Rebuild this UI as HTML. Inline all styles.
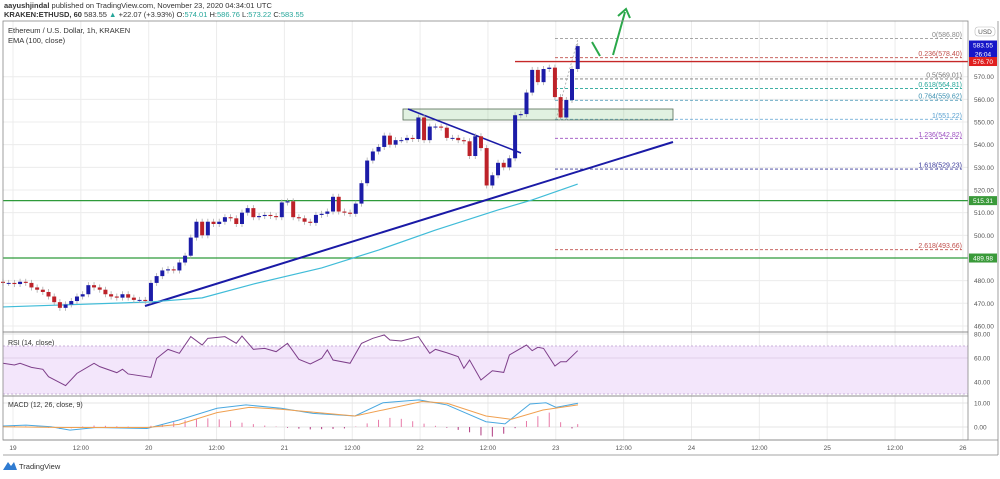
<!DOCTYPE html>
<html><head><meta charset="utf-8">
<style>
html,body{margin:0;padding:0;background:#fff;}
body{width:1000px;height:474px;overflow:hidden;font-family:"Liberation Sans",sans-serif;}
svg text{font-family:"Liberation Sans",sans-serif;}
</style></head>
<body>
<svg id="chart" width="1000" height="474" viewBox="0 0 1000 474" xmlns="http://www.w3.org/2000/svg">
<text x="4" y="8" font-size="7.5" fill="#333"><tspan font-weight="bold">aayushjindal</tspan> published on TradingView.com, November 23, 2020 04:34:01 UTC</text>
<text x="4" y="17" font-size="7.5" fill="#333"><tspan font-weight="bold">KRAKEN:ETHUSD, 60</tspan> 583.55 <tspan fill="#26a69a">▲</tspan> +22.07 (+3.93%) O:<tspan fill="#26a69a">574.01</tspan> H:<tspan fill="#26a69a">586.76</tspan> L:<tspan fill="#26a69a">573.22</tspan> C:<tspan fill="#26a69a">583.55</tspan></text>
<g id="grid"></g>
<g id="overlays"></g>
<g id="candles"></g>
<g id="ind"></g>
<g id="axes"></g>
<text x="8" y="33" font-size="7.5" fill="#333">Ethereum / U.S. Dollar, 1h, KRAKEN</text>
<text x="8" y="43" font-size="7.5" fill="#333">EMA (100, close)</text>
<text x="8" y="345" font-size="7" fill="#333">RSI (14, close)</text>
<text x="8" y="407" font-size="7" fill="#333">MACD (12, 26, close, 9)</text>
<g>
<path d="M3 470 L8 462 L11 466 L14 462 L17 470 Z" fill="#2f7bd1"/>
<text x="19" y="469" font-size="7.5" fill="#333">TradingView</text>
</g>
</svg>
<script>
const closes=[479,479,478.5,479.5,479,477,476,475,473,470.5,468,469.5,471,473,474,478,477,476,474,473,472.5,474,472.5,471.5,471.5,471,479,482,484.5,485,484.5,488,491,499,506,500,506,505,506,508,507.5,505,510,512,508,508.5,509,508.5,508,514.5,515,508,507.5,506,505.5,509,509.5,510.5,517,510.5,510,509.5,514,523,533,537,539,544,540,542,542,543,542.5,552,542,548,548,547.5,543,543,542,541.5,535,543.7,538.5,522,526.5,532,530,534,553,553.5,563,573,567.6,573.4,574,561,552,559.7,573.4,583.5];
const firstOpen=479.5;
const emaIdx=[0,26,35,44,56,66,76,87,93,101];
const emaVals=[468.4,470.6,472.4,478.5,485.6,493.5,502.3,511.2,515.6,522.6];
const rsiIdx=[0,2,3,5,7,8,11,13,16,17,20,21,22,26,27,29,31,33,35,36,39,41,42,44,46,48,50,52,54,56,57,58,61,63,65,67,68,70,73,75,76,78,80,81,82,84,86,88,89,92,93,94,95,97,98,99,101];
const rsiVals=[55.6,54.2,55.6,52.2,50.6,44.4,37,47.2,55.6,52.8,47.8,50.6,46.7,43.9,59.7,67.2,63.9,77.8,70.8,76.4,77.8,72.2,78.3,67.2,68,65.3,72.2,58.9,55,59.7,66.7,58.3,55.6,72.2,76.4,79.2,75,74.2,77.8,63.9,67.2,64.4,61.1,51.4,58.3,41.7,49.4,48,62.5,70.8,66.1,68.9,68,53.3,56.9,56.9,66.1];
const macdX=[3,26,51,70,96,147,179,217,246,281,313,355,383,419,447,486,505,530,546,556,578];
const macdVals=[0.4,0.8,0.1,-1.3,-0.2,-0.6,2.9,7.8,9.2,7.8,5.7,4.6,10.1,11.3,9.2,2.2,1.3,9.6,10.1,8.2,9.9];
const sigX=[3,64,147,179,217,249,281,355,383,422,447,486,511,543,578];
const sigVals=[0.1,-0.2,-0.2,1.1,6,8.2,7.4,4.6,7.1,10.6,9.9,4.6,3.2,7.1,9.2];
const histIdx=[0,2,4,6,8,10,12,14,16,18,20,22,24,26,28,30,32,34,36,38,40,42,44,46,48,50,52,54,56,58,60,62,64,66,68,70,72,74,76,78,80,82,84,86,88,90,92,94,96,98,100,101];
const histVals=[0.3,0.4,0.3,0.2,-0.3,-0.8,-0.5,0.2,0.6,0.5,0.3,0.2,-0.2,0.5,1.2,2,2.8,3.5,3.6,3.2,2.6,1.8,1.2,0.6,0.2,-0.3,-0.7,-1,-0.9,-0.8,-0.6,0.2,1.5,3,3.8,3.4,2.4,1.4,0.5,-0.3,-1.2,-2.2,-3.5,-4,-2.8,-0.5,2.5,4.5,6,2,-0.6,1.2];
const priceTicks=[570,560,550,540,530,520,510,500,490,480,470,460];
const timeLabels=["19","12:00","20","12:00","21","12:00","22","12:00","23","12:00","24","12:00","25","12:00","26"];
const fibLevels=[0,0.236,0.5,0.618,0.764,1,1.236,1.618,2.618];
const fibPrices=[586.80,578.40,569.01,564.81,559.62,551.22,542.82,529.23,493.66];
const fibColors=["#888","#c0504d","#777","#26a69a","#3a8fb0","#5aa0d0","#9c4fc0","#3a3a9a","#c0504d"];

const NS="http://www.w3.org/2000/svg";
const X0=3,X1=968,PT=21,PB=332;
const yP=p=>76.7+(570-p)*2.266;
const xI=i=>3+i*5.69;
const xT=k=>13+k*67.85;
const yR=v=>358-(v-60)*1.2;
const yM=v=>427-v*2.4;
function mk(tag,attrs,parent){const e=document.createElementNS(NS,tag);for(const k in attrs)e.setAttribute(k,attrs[k]);parent.appendChild(e);return e;}
const grid=document.getElementById('grid'),ov=document.getElementById('overlays'),cg=document.getElementById('candles'),ind=document.getElementById('ind'),ax=document.getElementById('axes');

// grid
priceTicks.forEach(p=>{const l=mk('line',{x1:X0,x2:X1,y1:yP(p),y2:yP(p),stroke:'#ececec','stroke-width':1},grid);

});
timeLabels.forEach((t,k)=>{const l=mk('line',{x1:xT(k),x2:xT(k),y1:PT,y2:440,stroke:'#ececec','stroke-width':1},grid);

});
[334,358,382].forEach(y=>mk('line',{x1:X0,x2:X1,y1:y,y2:y,stroke:'#e4e4e4'},grid));
[403,427].forEach(y=>mk('line',{x1:X0,x2:X1,y1:y,y2:y,stroke:'#e4e4e4'},grid));
// RSI band
const band=mk('rect',{x:X0,y:yR(70),width:X1-X0,height:yR(30)-yR(70),fill:'#f3e6fb'},grid);


[70,30].forEach(v=>mk('line',{x1:X0,x2:X1,y1:yR(v),y2:yR(v),stroke:'#c8b0d8','stroke-dasharray':'2,2'},grid));
mk('line',{x1:X0,x2:X1,y1:yR(60),y2:yR(60),stroke:'#e0d0ea'},grid);

// pane frames
[[PT,PB],[PB,396],[396,440]].forEach(([a,b])=>mk('rect',{x:X0,y:a,width:X1-X0,height:b-a,fill:'none',stroke:'#888','stroke-width':0.8},ax));
mk('line',{x1:X0,x2:998,y1:440,y2:440,stroke:'#888','stroke-width':0.8},ax);
mk('line',{x1:X0,x2:998,y1:455,y2:455,stroke:'#888','stroke-width':0.8},ax);
mk('line',{x1:998,x2:998,y1:PT,y2:455,stroke:'#888','stroke-width':0.8},ax);

// green horizontals
[[515.31,'support-line-515'],[489.98,'support-line-490']].forEach(([p,n])=>{const l=mk('line',{x1:X0,x2:X1,y1:yP(p),y2:yP(p),stroke:'#2e9a3a','stroke-width':1.2},ov);

});
// fib
fibPrices.forEach((p,k)=>{const y=yP(p);
const l=mk('line',{x1:555,x2:962,y1:y,y2:y,stroke:fibColors[k],'stroke-width':0.8,'stroke-dasharray':'3,2'},ov);


const t=mk('text',{x:962,y:y-1.5,'font-size':7,fill:fibColors[k],'text-anchor':'end'},ov);
t.textContent=fibLevels[k]+'('+fibPrices[k].toFixed(2)+')';

});
mk('line',{x1:556,x2:578,y1:yP(551.22),y2:yP(586.8),stroke:'#999','stroke-width':0.7,'stroke-dasharray':'2,2'},ov);
// box
const box=mk('rect',{x:403,y:109,width:270,height:11,fill:'rgba(120,190,120,0.22)',stroke:'#556b55','stroke-width':0.8},ov);


// red line
const rl=mk('line',{x1:515,x2:X1,y1:yP(576.7),y2:yP(576.7),stroke:'#c62828','stroke-width':1.4},ov);


// trend lines
const tl=mk('line',{x1:145,y1:306,x2:673,y2:142,stroke:'#1a1aa6','stroke-width':2},ov);


const dl=mk('line',{x1:408,y1:109,x2:521,y2:153,stroke:'#1a1aa6','stroke-width':1.6},ov);


// EMA
let d='';emaIdx.forEach((i,k)=>{d+=(k?'L':'M')+xI(i)+' '+yP(emaVals[k]);});
const ema=mk('path',{d:d,fill:'none',stroke:'#40bcd8','stroke-width':1.2},ov);


// arrow
const ar=mk('g',{},ov);


mk('path',{d:'M592 42 L600 56',stroke:'#2aa84a','stroke-width':2,fill:'none'},ar);
mk('path',{d:'M613 55 L625 12 M618 16 L626 9 L630 18',stroke:'#2aa84a','stroke-width':2,fill:'none'},ar);

// candles
closes.forEach((c,i)=>{const o=i?closes[i-1]:firstOpen;const up=c>=o;const col=up?'#1c1ca8':'#bd2229';
const x=xI(i);const top=yP(Math.max(o,c)),bot=yP(Math.min(o,c));
const g=mk('g',{},cg);


mk('line',{x1:x,x2:x,y1:top-3,y2:bot+3,stroke:'#aaa','stroke-width':0.8},g);
mk('rect',{x:x-2,y:top,width:4,height:Math.max(1,bot-top),fill:col},g);});

// RSI
d='';rsiIdx.forEach((i,k)=>{d+=(k?'L':'M')+xI(i)+' '+yR(rsiVals[k]);});
const rsi=mk('path',{d:d,fill:'none',stroke:'#7e3f8a','stroke-width':1},ind);


// MACD hist
histIdx.forEach((i,k)=>{const v=histVals[k];const b=mk('rect',{x:xI(i)-0.5,y:Math.min(yM(0),yM(v)),width:1,height:Math.abs(yM(v)-yM(0)),fill:v>=0?'#e87aa8':'#b03a80'},ind);

});
d='';macdX.forEach((x,k)=>{d+=(k?'L':'M')+x+' '+yM(macdVals[k]);});
const ml=mk('path',{d:d,fill:'none',stroke:'#4aa8e0','stroke-width':1},ind);


d='';sigX.forEach((x,k)=>{d+=(k?'L':'M')+x+' '+yM(sigVals[k]);});
const sl=mk('path',{d:d,fill:'none',stroke:'#f0a050','stroke-width':1},ind);



// axes labels
priceTicks.forEach(p=>{const t=mk('text',{x:974,y:yP(p)+2.5,'font-size':6.5,fill:'#555'},ax);t.textContent=p.toFixed(2);

});
[[80,yR(80)],[60,yR(60)],[40,yR(40)]].forEach(([v,y])=>{const t=mk('text',{x:974,y:y+2.5,'font-size':6.5,fill:'#555'},ax);t.textContent=v.toFixed(2);});
[[10,yM(10)],[0,yM(0)]].forEach(([v,y])=>{const t=mk('text',{x:974,y:y+2.5,'font-size':6.5,fill:'#555'},ax);t.textContent=v.toFixed(2);});
timeLabels.forEach((s,k)=>{const t=mk('text',{x:xT(k),y:450,'font-size':6.5,fill:'#555','text-anchor':'middle'},ax);t.textContent=s;

});
function tag(y,txt,bg,name){const g=mk('g',{},ax);


mk('rect',{x:969,y:y-4.5,width:28,height:9,fill:bg},g);const t=mk('text',{x:983,y:y+2.5,'font-size':6.5,fill:'#fff','text-anchor':'middle'},g);t.textContent=txt;}
tag(45,'583.55','#1616c8','last-price-tag');
tag(54,'26:04','#1616c8','countdown-tag');
tag(yP(576.7),'576.70','#e02020','resistance-price-tag');
tag(yP(515.31),'515.31','#3a9a3a','support-price-tag-515');
tag(yP(489.98),'489.98','#3a9a3a','support-price-tag-490');
const ub=mk('rect',{x:975,y:27,width:20,height:9,rx:3,fill:'#fff',stroke:'#bbb','stroke-width':0.6},ax);


const ut=mk('text',{x:985,y:34,'font-size':6.5,fill:'#555','text-anchor':'middle'},ax);ut.textContent='USD';
</script>
</body></html>
